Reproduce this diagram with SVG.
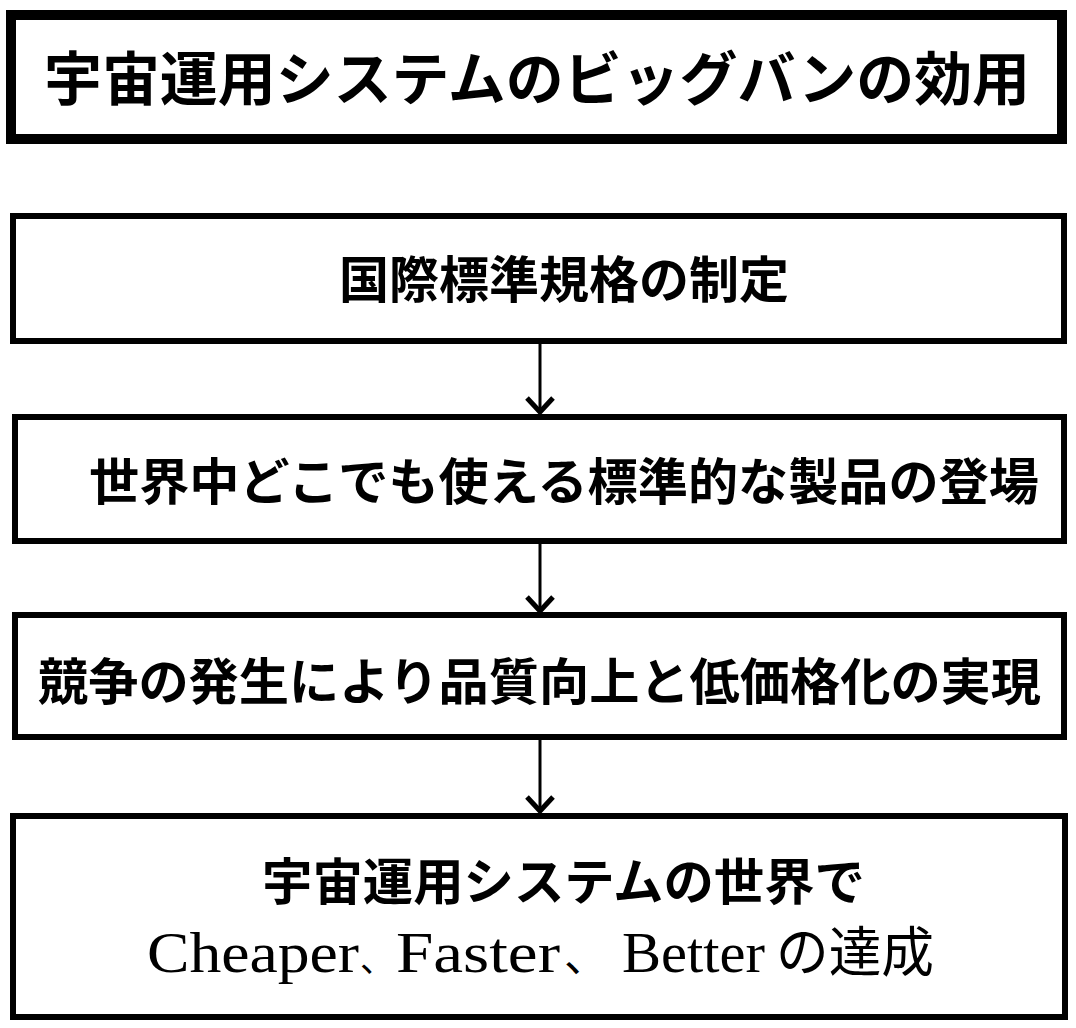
<svg xmlns="http://www.w3.org/2000/svg" width="1076" height="1028" viewBox="0 0 1076 1028">
<style>
.box{fill:#fff;stroke:#000;stroke-width:6}
.title{fill:#fff;stroke:#000;stroke-width:10}
.jp{font-family:"Noto Sans CJK JP","Noto Sans CJK SC",sans-serif;font-weight:bold;fill:#000}
.lat{font-family:"Liberation Serif","Noto Sans CJK JP",serif;fill:#000}
.jpr{font-family:"Noto Sans CJK JP","Noto Sans CJK SC",sans-serif}
.conn{stroke:#000;stroke-width:3;fill:none}
</style>
<defs>
<marker id="ah" markerUnits="userSpaceOnUse" markerWidth="40" markerHeight="40" refX="0" refY="0" orient="auto" overflow="visible">
<path d="M-14,-13 L0,0 L-14,13" fill="none" stroke="#000" stroke-width="5" stroke-linejoin="miter"/>
</marker>
</defs>
<rect width="1076" height="1028" fill="#fff"/>
<g id="node-title">
<rect class="title" x="11" y="15" width="1051" height="124"/>
<text class="jp" x="44" y="100" font-size="58" textLength="986" lengthAdjust="spacingAndGlyphs">宇宙運用システムのビッグバンの効用</text>
</g>
<g id="node-standard">
<rect class="box" x="13" y="216" width="1051" height="125"/>
<text class="jp" x="339" y="298" font-size="50" textLength="450" lengthAdjust="spacingAndGlyphs">国際標準規格の制定</text>
</g>
<g id="node-products">
<rect class="box" x="15" y="417" width="1049" height="124"/>
<text class="jp" x="89" y="500" font-size="50" textLength="950" lengthAdjust="spacingAndGlyphs">世界中どこでも使える標準的な製品の登場</text>
</g>
<g id="node-competition">
<rect class="box" x="15" y="615" width="1049" height="122"/>
<text class="jp" x="38" y="700" font-size="50" textLength="1003" lengthAdjust="spacingAndGlyphs">競争の発生により品質向上と低価格化の実現</text>
</g>
<g id="node-result">
<rect class="box" x="13" y="816" width="1052" height="201"/>
<text class="jp" x="262" y="900" font-size="50" textLength="603" lengthAdjust="spacingAndGlyphs">宇宙運用システムの世界で</text>
<text class="lat" y="972" font-size="56"><tspan x="147" textLength="212" lengthAdjust="spacingAndGlyphs">Cheaper</tspan><tspan class="jpr" x="360" font-size="34">、</tspan><tspan x="396" textLength="164" lengthAdjust="spacingAndGlyphs">Faster</tspan><tspan class="jpr" x="564" font-size="44" textLength="54" lengthAdjust="spacing">、 </tspan><tspan x="622" textLength="143" lengthAdjust="spacingAndGlyphs">Better</tspan><tspan class="jpr" x="776" font-size="54" textLength="158" lengthAdjust="spacingAndGlyphs">の達成</tspan></text>
</g>
<g id="connectors">
<line class="conn" x1="540" y1="344" x2="540" y2="412" marker-end="url(#ah)"/>
<line class="conn" x1="540" y1="544" x2="540" y2="611" marker-end="url(#ah)"/>
<line class="conn" x1="540" y1="740" x2="540" y2="811" marker-end="url(#ah)"/>
</g>
</svg>
